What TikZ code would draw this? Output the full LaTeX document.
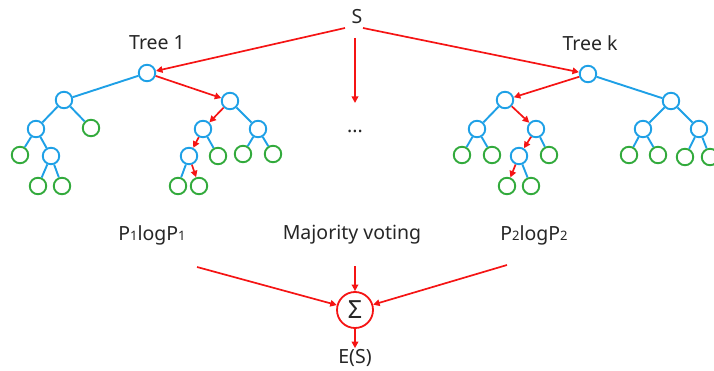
\documentclass[tikz,border=0pt]{standalone}
\usepackage{fontspec}
\setmainfont{Noto Sans}
\usetikzlibrary{arrows.meta}
\definecolor{tblue}{RGB}{30,160,230}
\definecolor{tgreen}{RGB}{50,170,60}
\definecolor{tred}{RGB}{245,20,20}
\begin{document}
\begin{tikzpicture}[x=1pt,y=-1pt,
  inode/.style={circle,draw=tblue,line width=1.9pt,minimum size=16.5pt,inner sep=0pt},
  leaf/.style={circle,draw=tgreen,line width=1.9pt,minimum size=16.5pt,inner sep=0pt},
  bl/.style={tblue,line width=1.9pt},
  rd/.style={tred,line width=1.7pt,-{Triangle[length=6.5pt,width=6.5pt]}},
  lbl/.style={font=\fontsize{19.5}{21}\selectfont,inner sep=1pt,text=black!85}]
\useasboundingbox (0,0) rectangle (714,371);
% labels
\node[lbl] (S) at (357,17) {S};
\node[lbl] (t1) at (157,43) {Tree 1};
\node[lbl] (tk) at (590,43) {Tree k};
\node[lbl] (dots) at (355,131) {\textbf{...}};
\node[lbl] (pl) at (152,235) {P{\fontsize{13}{13}\selectfont 1}logP{\fontsize{13}{13}\selectfont 1}};
\node[lbl] (mv) at (352,235) {Majority voting};
\node[lbl] (pr) at (534,235) {P{\fontsize{13}{13}\selectfont 2}logP{\fontsize{13}{13}\selectfont 2}};
\node[circle,draw=tred,line width=1.8pt,minimum size=36pt,inner sep=0pt,font=\fontsize{25}{25}\selectfont,text=black!85] (sig) at (355,310) {Σ};
\node[lbl] (es) at (355,358) {E(S)};
% left tree
\node[inode] (r1) at (147,73) {};
\node[inode] (a) at (64,100) {};
\node[inode] (b) at (230,101) {};
\node[inode] (a1) at (36,129) {};
\node[leaf] (a2) at (91,128) {};
\node[leaf] (a11) at (20,155) {};
\node[inode] (a12) at (51,156) {};
\node[leaf] (a121) at (38,186) {};
\node[leaf] (a122) at (62,186) {};
\node[inode] (b1) at (203,129) {};
\node[inode] (b2) at (258,129) {};
\node[inode] (b11) at (189,156) {};
\node[leaf] (b12) at (218,156) {};
\node[leaf] (b111) at (178,186) {};
\node[leaf] (b112) at (199,186) {};
\node[leaf] (b21) at (243,154) {};
\node[leaf] (b22) at (273,154) {};
% right tree
\node[inode] (rk) at (588,74) {};
\node[inode] (c) at (505,100) {};
\node[inode] (d) at (671,101) {};
\node[inode] (c1) at (477,129) {};
\node[inode] (c2) at (536,129) {};
\node[leaf] (c11) at (462,155) {};
\node[leaf] (c12) at (492,155) {};
\node[inode] (c21) at (519,156) {};
\node[leaf] (c22) at (549,155) {};
\node[leaf] (c211) at (507,186) {};
\node[leaf] (c212) at (531,186) {};
\node[inode] (d1) at (643,129) {};
\node[inode] (d2) at (699,129) {};
\node[leaf] (d11) at (629,155) {};
\node[leaf] (d12) at (658,155) {};
\node[leaf] (d21) at (685,157) {};
\node[leaf] (d22) at (710,157) {};
% blue edges
\foreach \u/\v in {r1/a,a/a1,a/a2,a1/a11,a1/a12,a12/a121,a12/a122,b/b2,b1/b12,b11/b111,b2/b21,b2/b22,
  rk/d,c/c1,c1/c11,c1/c12,c2/c22,c21/c212,d/d1,d/d2,d1/d11,d1/d12,d2/d21,d2/d22}
  \draw[bl] (\u) -- (\v);
% red paths
\foreach \u/\v in {r1/b,b/b1,b1/b11,b11/b112,rk/c,c/c2,c2/c21,c21/c211}
  \draw[rd] (\u) -- (\v);
% from S
\coordinate (sl) at (345,28);
\coordinate (sr) at (363,28);
\coordinate (sv) at (355,38);
\coordinate (ve) at (355,103);
\draw[rd] (sl) -- (r1);
\draw[rd] (sr) -- (rk);
\draw[rd] (sv) -- (ve);
% bottom
\coordinate (p1) at (197,267);
\coordinate (pm) at (355,266);
\coordinate (p2) at (507,265);
\draw[rd] (p1) -- (sig);
\draw[rd] (pm) -- (sig);
\draw[rd] (p2) -- (sig);
\draw[rd] (sig) -- (es);
\end{tikzpicture}
\end{document}
